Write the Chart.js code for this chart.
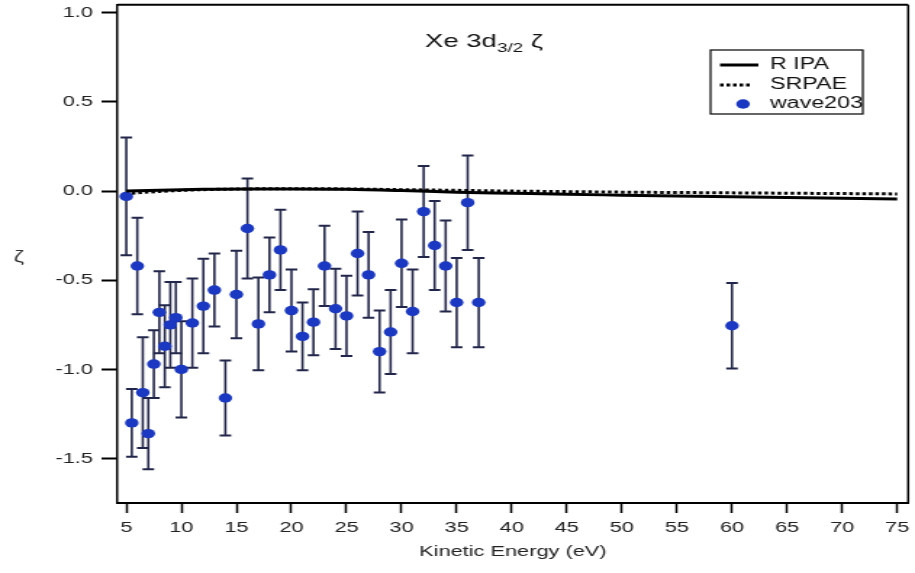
<!DOCTYPE html>
<html>
<head>
<meta charset="utf-8">
<script src="https://cdn.jsdelivr.net/npm/chart.js@4.4.0/dist/chart.umd.min.js"></script>
<style>
  html, body { margin: 0; padding: 0; background: #fff; overflow: hidden; }
  /* the reference picture is stretched sideways, so draw narrow and stretch */
  #wrap { width: 631px; height: 573px; transform: scaleX(1.4501); transform-origin: 0 0; }
</style>
</head>
<body>
<div id="wrap"><canvas id="chart" width="631" height="573"></canvas></div>
<script>
// Measured points (wave203)
const energy = [5, 5.5, 6, 6.5, 7, 7.5, 8, 8.5, 9, 9.5, 10, 11, 12, 13, 14, 15, 16, 17, 18, 19,
                20, 21, 22, 23, 24, 25, 26, 27, 28, 29, 30, 31, 32, 33, 34, 35, 36, 37, 60];
const zeta = [-0.03, -1.30, -0.42, -1.13, -1.36, -0.97, -0.68, -0.87, -0.75, -0.71, -1.00, -0.74,
              -0.645, -0.555, -1.16, -0.58, -0.21, -0.745, -0.47, -0.33, -0.67, -0.815, -0.735,
              -0.42, -0.66, -0.70, -0.35, -0.47, -0.90, -0.79, -0.405, -0.675, -0.115, -0.305,
              -0.42, -0.625, -0.065, -0.625, -0.755];
const zetaErr = [0.33, 0.19, 0.27, 0.31, 0.2, 0.19, 0.23, 0.23, 0.24, 0.2, 0.27, 0.25, 0.265,
                 0.205, 0.21, 0.245, 0.28, 0.26, 0.21, 0.225, 0.23, 0.19, 0.185, 0.225, 0.225,
                 0.225, 0.235, 0.24, 0.23, 0.235, 0.245, 0.235, 0.255, 0.25, 0.255, 0.25, 0.265,
                 0.25, 0.24];

// Theory curves
const rpaEnergy = [5, 8, 12, 16, 20, 25, 30, 35, 40, 45, 50, 55, 60, 65, 70, 75];
const rpaZeta = [0, 0.005, 0.01, 0.012, 0.012, 0.01, 0.003, -0.006, -0.012, -0.018, -0.023,
                 -0.028, -0.032, -0.036, -0.04, -0.044];
const srpaeEnergy = [5.5, 8, 12, 16, 20, 25, 30, 35, 40, 45, 50, 55, 60, 65, 70, 75];
const srpaeZeta = [-0.012, -0.002, 0.008, 0.012, 0.013, 0.012, 0.008, 0.004, 0, -0.003, -0.006,
                   -0.008, -0.01, -0.012, -0.014, -0.016];

const xTicks = [5, 10, 15, 20, 25, 30, 35, 40, 45, 50, 55, 60, 65, 70, 75];
const yTicks = [-1.5, -1.0, -0.5, 0.0, 0.5, 1.0];

const family = '"Liberation Sans", Arial, sans-serif';
const dotColor = '#1b38c2';
const barColor = '#22264a';

const errorBars = {
    id: 'errorBars',
    beforeDatasetsDraw(chart) {
        const { ctx, scales: { x, y } } = chart;
        ctx.save();
        ctx.strokeStyle = barColor;
        energy.forEach((e, i) => {
            const px = x.getPixelForValue(e);
            const top = y.getPixelForValue(zeta[i] + zetaErr[i]);
            const bot = y.getPixelForValue(zeta[i] - zetaErr[i]);
            ctx.lineWidth = 1.6;
            ctx.beginPath();
            ctx.moveTo(px, top);
            ctx.lineTo(px, bot);
            ctx.stroke();
            ctx.lineWidth = 2;
            ctx.beginPath();
            ctx.moveTo(px - 4, top); ctx.lineTo(px + 4, top);
            ctx.moveTo(px - 4, bot); ctx.lineTo(px + 4, bot);
            ctx.stroke();
        });
        ctx.restore();
    }
};

const frameAndText = {
    id: 'frameAndText',
    afterDraw(chart) {
        const { ctx, chartArea: a } = chart;
        ctx.save();
        // top and right frame
        ctx.strokeStyle = '#000';
        ctx.lineWidth = 2;
        ctx.beginPath(); ctx.moveTo(a.left, a.top); ctx.lineTo(a.right, a.top); ctx.stroke();
        ctx.lineWidth = 1.5;
        ctx.beginPath(); ctx.moveTo(a.right, a.top); ctx.lineTo(a.right, a.bottom); ctx.stroke();

        // title inside the plot
        ctx.fillStyle = '#111';
        ctx.textBaseline = 'alphabetic';
        ctx.textAlign = 'left';
        let tx = 293;
        ctx.font = '19px ' + family;
        ctx.fillText('Xe 3d', tx, 47);
        tx += ctx.measureText('Xe 3d').width;
        ctx.font = '13px ' + family;
        ctx.fillText('3/2', tx, 52);
        tx += ctx.measureText('3/2').width;
        ctx.font = '19px ' + family;
        ctx.fillText(' ζ', tx, 47);

        // y axis label
        ctx.font = '16px ' + family;
        ctx.textAlign = 'center';
        ctx.textBaseline = 'middle';
        ctx.fillStyle = '#333';
        ctx.fillText('ζ', 13, 258);

        // legend
        const ds = chart.data.datasets;
        ctx.strokeStyle = '#000';
        ctx.lineWidth = 1.2;
        ctx.strokeRect(490, 50, 105, 64);
        ctx.font = '16px ' + family;
        ctx.textAlign = 'left';
        ctx.fillStyle = '#111';
        const rows = [65, 85, 104];
        ctx.lineWidth = 3;
        ctx.beginPath(); ctx.moveTo(496.5, rows[0]); ctx.lineTo(523, rows[0]); ctx.stroke();
        ctx.setLineDash(ds[1].borderDash);
        ctx.beginPath(); ctx.moveTo(496.5, rows[1]); ctx.lineTo(517, rows[1]); ctx.stroke();
        ctx.setLineDash([]);
        ctx.fillStyle = dotColor;
        ctx.beginPath(); ctx.arc(512.4, rows[2], 4.7, 0, Math.PI * 2); ctx.fill();
        ctx.fillStyle = '#111';
        ds.forEach((d, i) => ctx.fillText(d.label, 531, rows[i]));
        ctx.restore();
    }
};

new Chart(document.getElementById('chart'), {
    type: 'scatter',
    data: {
        datasets: [
            {
                label: 'R IPA',
                data: rpaEnergy.map((e, i) => ({ x: e, y: rpaZeta[i] })),
                showLine: true,
                borderColor: '#000',
                borderWidth: 3,
                pointRadius: 0,
                cubicInterpolationMode: 'monotone'
            },
            {
                label: 'SRPAE',
                data: srpaeEnergy.map((e, i) => ({ x: e, y: srpaeZeta[i] })),
                showLine: true,
                borderColor: '#000',
                borderWidth: 3,
                borderDash: [2.5, 2],
                pointRadius: 0,
                cubicInterpolationMode: 'monotone'
            },
            {
                label: 'wave203',
                data: energy.map((e, i) => ({ x: e, y: zeta[i] })),
                pointRadius: 4.7,
                pointBackgroundColor: dotColor,
                pointBorderWidth: 0
            }
        ]
    },
    options: {
        responsive: false,
        animation: false,
        layout: { padding: { top: 3, right: 3, left: 0, bottom: 0 } },
        plugins: {
            legend: { display: false },
            tooltip: { enabled: false }
        },
        scales: {
            x: {
                type: 'linear',
                min: 4.2,
                max: 76,
                afterBuildTicks: s => { s.ticks = xTicks.map(v => ({ value: v })); },
                afterFit: s => { s.height = 70; s.paddingLeft = 0; s.paddingRight = 0; },
                ticks: {
                    color: '#222',
                    font: { size: 15, family },
                    padding: 6,
                    maxRotation: 0,
                    autoSkip: false,
                    callback: v => String(v)
                },
                grid: { drawOnChartArea: false, drawTicks: true, tickLength: 10, tickWidth: 1.5, tickColor: '#000' },
                border: { display: true, color: '#000', width: 2 },
                title: {
                    display: true,
                    text: 'Kinetic Energy (eV)',
                    color: '#222',
                    font: { size: 15, family },
                    padding: { top: 0, bottom: 12 }
                }
            },
            y: {
                type: 'linear',
                min: -1.749,
                max: 1.045,
                afterBuildTicks: s => { s.ticks = yTicks.map(v => ({ value: v })); },
                afterFit: s => { s.width = 81; s.paddingTop = 0; s.paddingBottom = 0; },
                ticks: {
                    color: '#222',
                    font: { size: 15, family },
                    padding: 6,
                    autoSkip: false,
                    callback: v => Number(v).toFixed(1)
                },
                grid: { drawOnChartArea: false, drawTicks: true, tickLength: 11, tickWidth: 2, tickColor: '#000' },
                border: { display: true, color: '#000', width: 1.5 }
            }
        }
    },
    plugins: [errorBars, frameAndText]
});
</script>
</body>
</html>
